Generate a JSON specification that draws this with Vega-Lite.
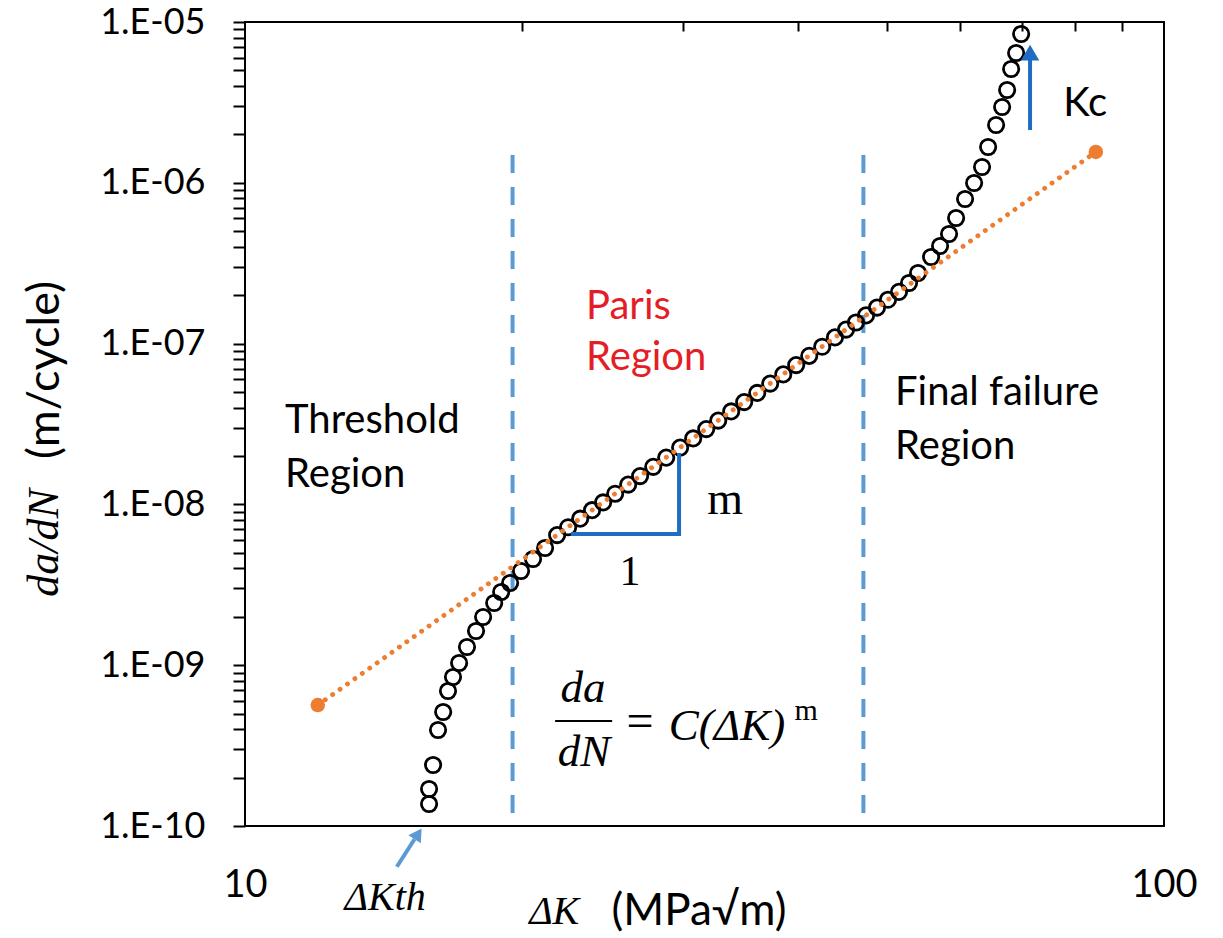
{
  "$schema": "https://vega.github.io/schema/vega-lite/v6.json",
  "width": 919,
  "height": 804,
  "autosize": "none",
  "padding": {"left": 245, "top": 22, "right": 59, "bottom": 112},
  "background": "white",
  "config": {"font": "Lato", "view": {"stroke": "black", "strokeWidth": 2}},
  "datasets": {
    "vlines": [{"k": 19.55, "v": 1.49e-6, "v2": 1.04e-10}, {"k": 47.09, "v": 1.49e-6, "v2": 1.04e-10}],
    "pts": [
      {"k": 15.86, "v": 1.370e-10}, {"k": 15.86, "v": 1.699e-10}, {"k": 16.02, "v": 2.395e-10}, {"k": 16.22, "v": 3.954e-10},
      {"k": 16.43, "v": 5.117e-10}, {"k": 16.63, "v": 6.912e-10}, {"k": 16.84, "v": 8.446e-10}, {"k": 17.10, "v": 1.032e-9},
      {"k": 17.44, "v": 1.298e-9}, {"k": 17.84, "v": 1.632e-9}, {"k": 18.16, "v": 1.994e-9}, {"k": 18.67, "v": 2.437e-9},
      {"k": 19.00, "v": 2.852e-9}, {"k": 19.43, "v": 3.245e-9}, {"k": 19.97, "v": 3.853e-9}, {"k": 20.58, "v": 4.576e-9},
      {"k": 21.21, "v": 5.357e-9}, {"k": 21.86, "v": 6.445e-9}, {"k": 22.47, "v": 7.204e-9}, {"k": 23.16, "v": 8.151e-9},
      {"k": 23.86, "v": 9.204e-9}, {"k": 24.53, "v": 1.029e-8}, {"k": 25.28, "v": 1.164e-8}, {"k": 26.12, "v": 1.328e-8},
      {"k": 26.91, "v": 1.500e-8}, {"k": 27.81, "v": 1.713e-8}, {"k": 28.73, "v": 1.954e-8}, {"k": 29.75, "v": 2.255e-8},
      {"k": 30.74, "v": 2.573e-8}, {"k": 31.76, "v": 2.940e-8}, {"k": 32.73, "v": 3.320e-8}, {"k": 33.81, "v": 3.787e-8},
      {"k": 34.93, "v": 4.327e-8}, {"k": 36.09, "v": 4.936e-8}, {"k": 37.28, "v": 5.639e-8}, {"k": 38.52, "v": 6.435e-8},
      {"k": 39.79, "v": 7.350e-8}, {"k": 41.11, "v": 8.386e-8}, {"k": 42.47, "v": 9.566e-8}, {"k": 43.85, "v": 1.093e-7},
      {"k": 45.08, "v": 1.222e-7}, {"k": 46.22, "v": 1.353e-7}, {"k": 47.40, "v": 1.498e-7}, {"k": 48.72, "v": 1.675e-7},
      {"k": 50.08, "v": 1.875e-7}, {"k": 51.48, "v": 2.097e-7}, {"k": 52.79, "v": 2.382e-7}, {"k": 54.00, "v": 2.749e-7},
      {"k": 55.79, "v": 3.456e-7}, {"k": 57.06, "v": 4.046e-7}, {"k": 58.36, "v": 4.804e-7}, {"k": 59.40, "v": 6.041e-7},
      {"k": 60.75, "v": 7.931e-7}, {"k": 62.14, "v": 9.972e-7}, {"k": 63.39, "v": 1.254e-6}, {"k": 64.36, "v": 1.670e-6},
      {"k": 65.66, "v": 2.288e-6}, {"k": 66.66, "v": 2.961e-6}, {"k": 67.50, "v": 3.777e-6}, {"k": 68.18, "v": 5.102e-6},
      {"k": 69.04, "v": 6.416e-6}, {"k": 69.91, "v": 8.424e-6}
    ],
    "paris": [{"k": 12.0, "v": 5.65e-10}, {"k": 84.3, "v": 1.556e-6}],
    "tri": [{"k": 22.63, "v": 6.545e-9, "o": 1}, {"k": 29.67, "v": 6.545e-9, "o": 2}, {"k": 29.67, "v": 2.088e-8, "o": 3}],
    "kcShaft": [{"k": 71.49, "v": 2.13e-6, "v2": 5.97e-6}],
    "kcHead": [{"k": 71.49, "v": 6.45e-6}],
    "thShaft": [{"k": 14.63, "v": 5.58e-11}, {"k": 15.29, "v": 8.27e-11}],
    "thHead": [{"k": 15.43, "v": 8.94e-11}],
    "fracBar": [{"k": 21.75, "k2": 25.09, "v": 4.498e-10}],
    "sansBlack": [
      {"t": "Threshold", "k": 11.055, "v": 3.302e-8}, {"t": "Region", "k": 11.055, "v": 1.523e-8},
      {"t": "Final failure", "k": 50.97, "v": 4.929e-8}, {"t": "Region", "k": 50.97, "v": 2.275e-8},
      {"t": "Kc", "k": 77.67, "v": 3.090e-6}
    ],
    "sansRed": [{"t": "Paris", "k": 23.504, "v": 1.689e-7}, {"t": "Region", "k": 23.504, "v": 8.137e-8}],
    "slopeM": [{"t": "m", "k": 33.30, "v": 1.065e-8}],
    "slopeOne": [{"t": "1", "k": 26.246, "v": 3.798e-9}],
    "eqSign": [{"t": "=", "k": 26.914, "v": 4.371e-10}],
    "eqSup": [{"t": "m", "k": 40.80, "v": 5.19e-10}],
    "eqItalic": [{"t": "da", "k": 23.327, "v": 7.215e-10}, {"t": "dN", "k": 23.386, "v": 2.886e-10}, {"t": "C(ΔK)", "k": 33.455, "v": 4.187e-10}],
    "labItalic": [{"t": "ΔKth", "k": 14.206, "v": 3.566e-11}, {"t": "ΔK", "k": 21.70, "v": 2.918e-11}],
    "xTitleSans": [{"t": "(MPa√m)", "k": 31.19, "v": 2.918e-11}],
    "yTitleItalic": [{"t": "da/dN", "k": 6.058, "v": 5.754e-9}],
    "yTitleSans": [{"t": "(m/cycle)", "k": 6.058, "v": 6.85e-8}]
  },
  "encoding": {
    "x": {"field": "k", "type": "quantitative", "scale": {"type": "log", "domain": [10, 100], "nice": false}, "axis": null},
    "y": {"field": "v", "type": "quantitative", "scale": {"type": "log", "domain": [1e-10, 1e-5], "nice": false}, "axis": null}
  },
  "layer": [
    {
      "data": {"name": "vlines"},
      "mark": {"type": "rule", "color": "#5B9BD5", "strokeWidth": 4, "strokeDash": [18, 14]},
      "encoding": {
        "x": {"field": "k", "type": "quantitative", "scale": {"type": "log", "domain": [10, 100], "nice": false},
          "axis": {"orient": "bottom", "values": [10, 100], "format": "d", "ticks": false, "tickSize": 0, "domain": false, "grid": false,
            "labelFont": "Lato", "labelFontSize": 38, "labelColor": "black", "labelPadding": 40, "labelFlush": false, "labelOverlap": false, "title": null}},
        "y": {"field": "v", "type": "quantitative", "scale": {"type": "log", "domain": [1e-10, 1e-5], "nice": false},
          "axis": {"orient": "left",
            "values": [1e-10, 2e-10, 3e-10, 4e-10, 5e-10, 6e-10, 7e-10, 8e-10, 9e-10,
                       1e-9, 2e-9, 3e-9, 4e-9, 5e-9, 6e-9, 7e-9, 8e-9, 9e-9,
                       1e-8, 2e-8, 3e-8, 4e-8, 5e-8, 6e-8, 7e-8, 8e-8, 9e-8,
                       1e-7, 2e-7, 3e-7, 4e-7, 5e-7, 6e-7, 7e-7, 8e-7, 9e-7,
                       1e-6, 2e-6, 3e-6, 4e-6, 5e-6, 6e-6, 7e-6, 8e-6, 9e-6, 1e-5],
            "labelExpr": "abs(log(datum.value)/LN10 - round(log(datum.value)/LN10)) < 0.001 ? '1.E-' + (round(-log(datum.value)/LN10) < 10 ? '0' : '') + round(-log(datum.value)/LN10) : ''",
            "tickSize": 12, "tickWidth": 2, "tickColor": "black", "domain": false, "grid": false,
            "labelFont": "Lato", "labelFontSize": 36, "labelColor": "black", "labelPadding": 28, "labelOverlap": false, "labelFlush": false, "title": null}},
        "y2": {"field": "v2"}
      }
    },
    {
      "data": {"name": "pts"},
      "mark": {"type": "point", "shape": "circle", "filled": false, "stroke": "black", "strokeWidth": 2.8, "size": 235, "opacity": 1}
    },
    {
      "data": {"name": "paris"},
      "mark": {"type": "line", "color": "#ED7D31", "strokeWidth": 4.8, "strokeDash": [0.1, 9], "strokeCap": "round"},
      "encoding": {
        "x": {"field": "k", "type": "quantitative", "scale": {"type": "log", "domain": [10, 100], "nice": false},
          "axis": {"orient": "top", "values": [20, 30, 40, 50, 60, 70, 80, 90], "labels": false, "tickSize": -9, "tickWidth": 2,
            "tickColor": "black", "domain": false, "grid": false, "title": null}}
      }
    },
    {
      "data": {"name": "paris"},
      "mark": {"type": "point", "shape": "circle", "filled": true, "color": "#ED7D31", "size": 210, "opacity": 1}
    },
    {
      "data": {"name": "tri"},
      "mark": {"type": "line", "color": "#1F6DC2", "strokeWidth": 4, "strokeJoin": "miter"},
      "encoding": {"order": {"field": "o", "type": "quantitative"}}
    },
    {
      "data": {"name": "kcShaft"},
      "mark": {"type": "rule", "color": "#1F6DC2", "strokeWidth": 4},
      "encoding": {"y2": {"field": "v2"}}
    },
    {
      "data": {"name": "kcHead"},
      "mark": {"type": "point", "shape": "triangle-up", "filled": true, "color": "#1F6DC2", "size": 340, "opacity": 1}
    },
    {
      "data": {"name": "thShaft"},
      "mark": {"type": "line", "color": "#5B9BD5", "strokeWidth": 4}
    },
    {
      "data": {"name": "thHead"},
      "mark": {"type": "point", "shape": "triangle-up", "filled": true, "color": "#5B9BD5", "size": 220, "angle": 33, "opacity": 1}
    },
    {
      "data": {"name": "fracBar"},
      "mark": {"type": "rule", "color": "black", "strokeWidth": 2},
      "encoding": {"x2": {"field": "k2"}}
    },
    {
      "data": {"name": "sansBlack"},
      "mark": {"type": "text", "font": "Lato", "fontSize": 40, "align": "left", "baseline": "middle", "color": "black"},
      "encoding": {"text": {"field": "t"}}
    },
    {
      "data": {"name": "sansRed"},
      "mark": {"type": "text", "font": "Lato", "fontSize": 40, "align": "left", "baseline": "middle", "color": "#E41E26"},
      "encoding": {"text": {"field": "t"}}
    },
    {
      "data": {"name": "slopeM"},
      "mark": {"type": "text", "font": "Liberation Serif", "fontSize": 46, "align": "center", "baseline": "middle", "color": "black"},
      "encoding": {"text": {"field": "t"}}
    },
    {
      "data": {"name": "slopeOne"},
      "mark": {"type": "text", "font": "Liberation Serif", "fontSize": 42, "align": "center", "baseline": "middle", "color": "black"},
      "encoding": {"text": {"field": "t"}}
    },
    {
      "data": {"name": "eqSign"},
      "mark": {"type": "text", "font": "Liberation Serif", "fontSize": 48, "align": "center", "baseline": "middle", "color": "black"},
      "encoding": {"text": {"field": "t"}}
    },
    {
      "data": {"name": "eqSup"},
      "mark": {"type": "text", "font": "Liberation Serif", "fontSize": 30, "align": "center", "baseline": "middle", "color": "black"},
      "encoding": {"text": {"field": "t"}}
    },
    {
      "data": {"name": "eqItalic"},
      "mark": {"type": "text", "font": "Liberation Serif", "fontStyle": "italic", "fontSize": 45, "align": "center", "baseline": "middle", "color": "black"},
      "encoding": {"text": {"field": "t"}}
    },
    {
      "data": {"name": "labItalic"},
      "mark": {"type": "text", "font": "Liberation Serif", "fontStyle": "italic", "fontSize": 40, "align": "center", "baseline": "middle", "color": "black"},
      "encoding": {"text": {"field": "t"}}
    },
    {
      "data": {"name": "xTitleSans"},
      "mark": {"type": "text", "font": "Lato", "fontSize": 44, "align": "center", "baseline": "middle", "color": "black"},
      "encoding": {"text": {"field": "t"}}
    },
    {
      "data": {"name": "yTitleItalic"},
      "mark": {"type": "text", "font": "Liberation Serif", "fontStyle": "italic", "fontSize": 44, "align": "center", "baseline": "middle", "angle": 270, "color": "black"},
      "encoding": {"text": {"field": "t"}}
    },
    {
      "data": {"name": "yTitleSans"},
      "mark": {"type": "text", "font": "Lato", "fontSize": 45, "align": "center", "baseline": "middle", "angle": 270, "color": "black"},
      "encoding": {"text": {"field": "t"}}
    }
  ],
  "resolve": {"axis": {"x": "independent", "y": "independent"}}
}
